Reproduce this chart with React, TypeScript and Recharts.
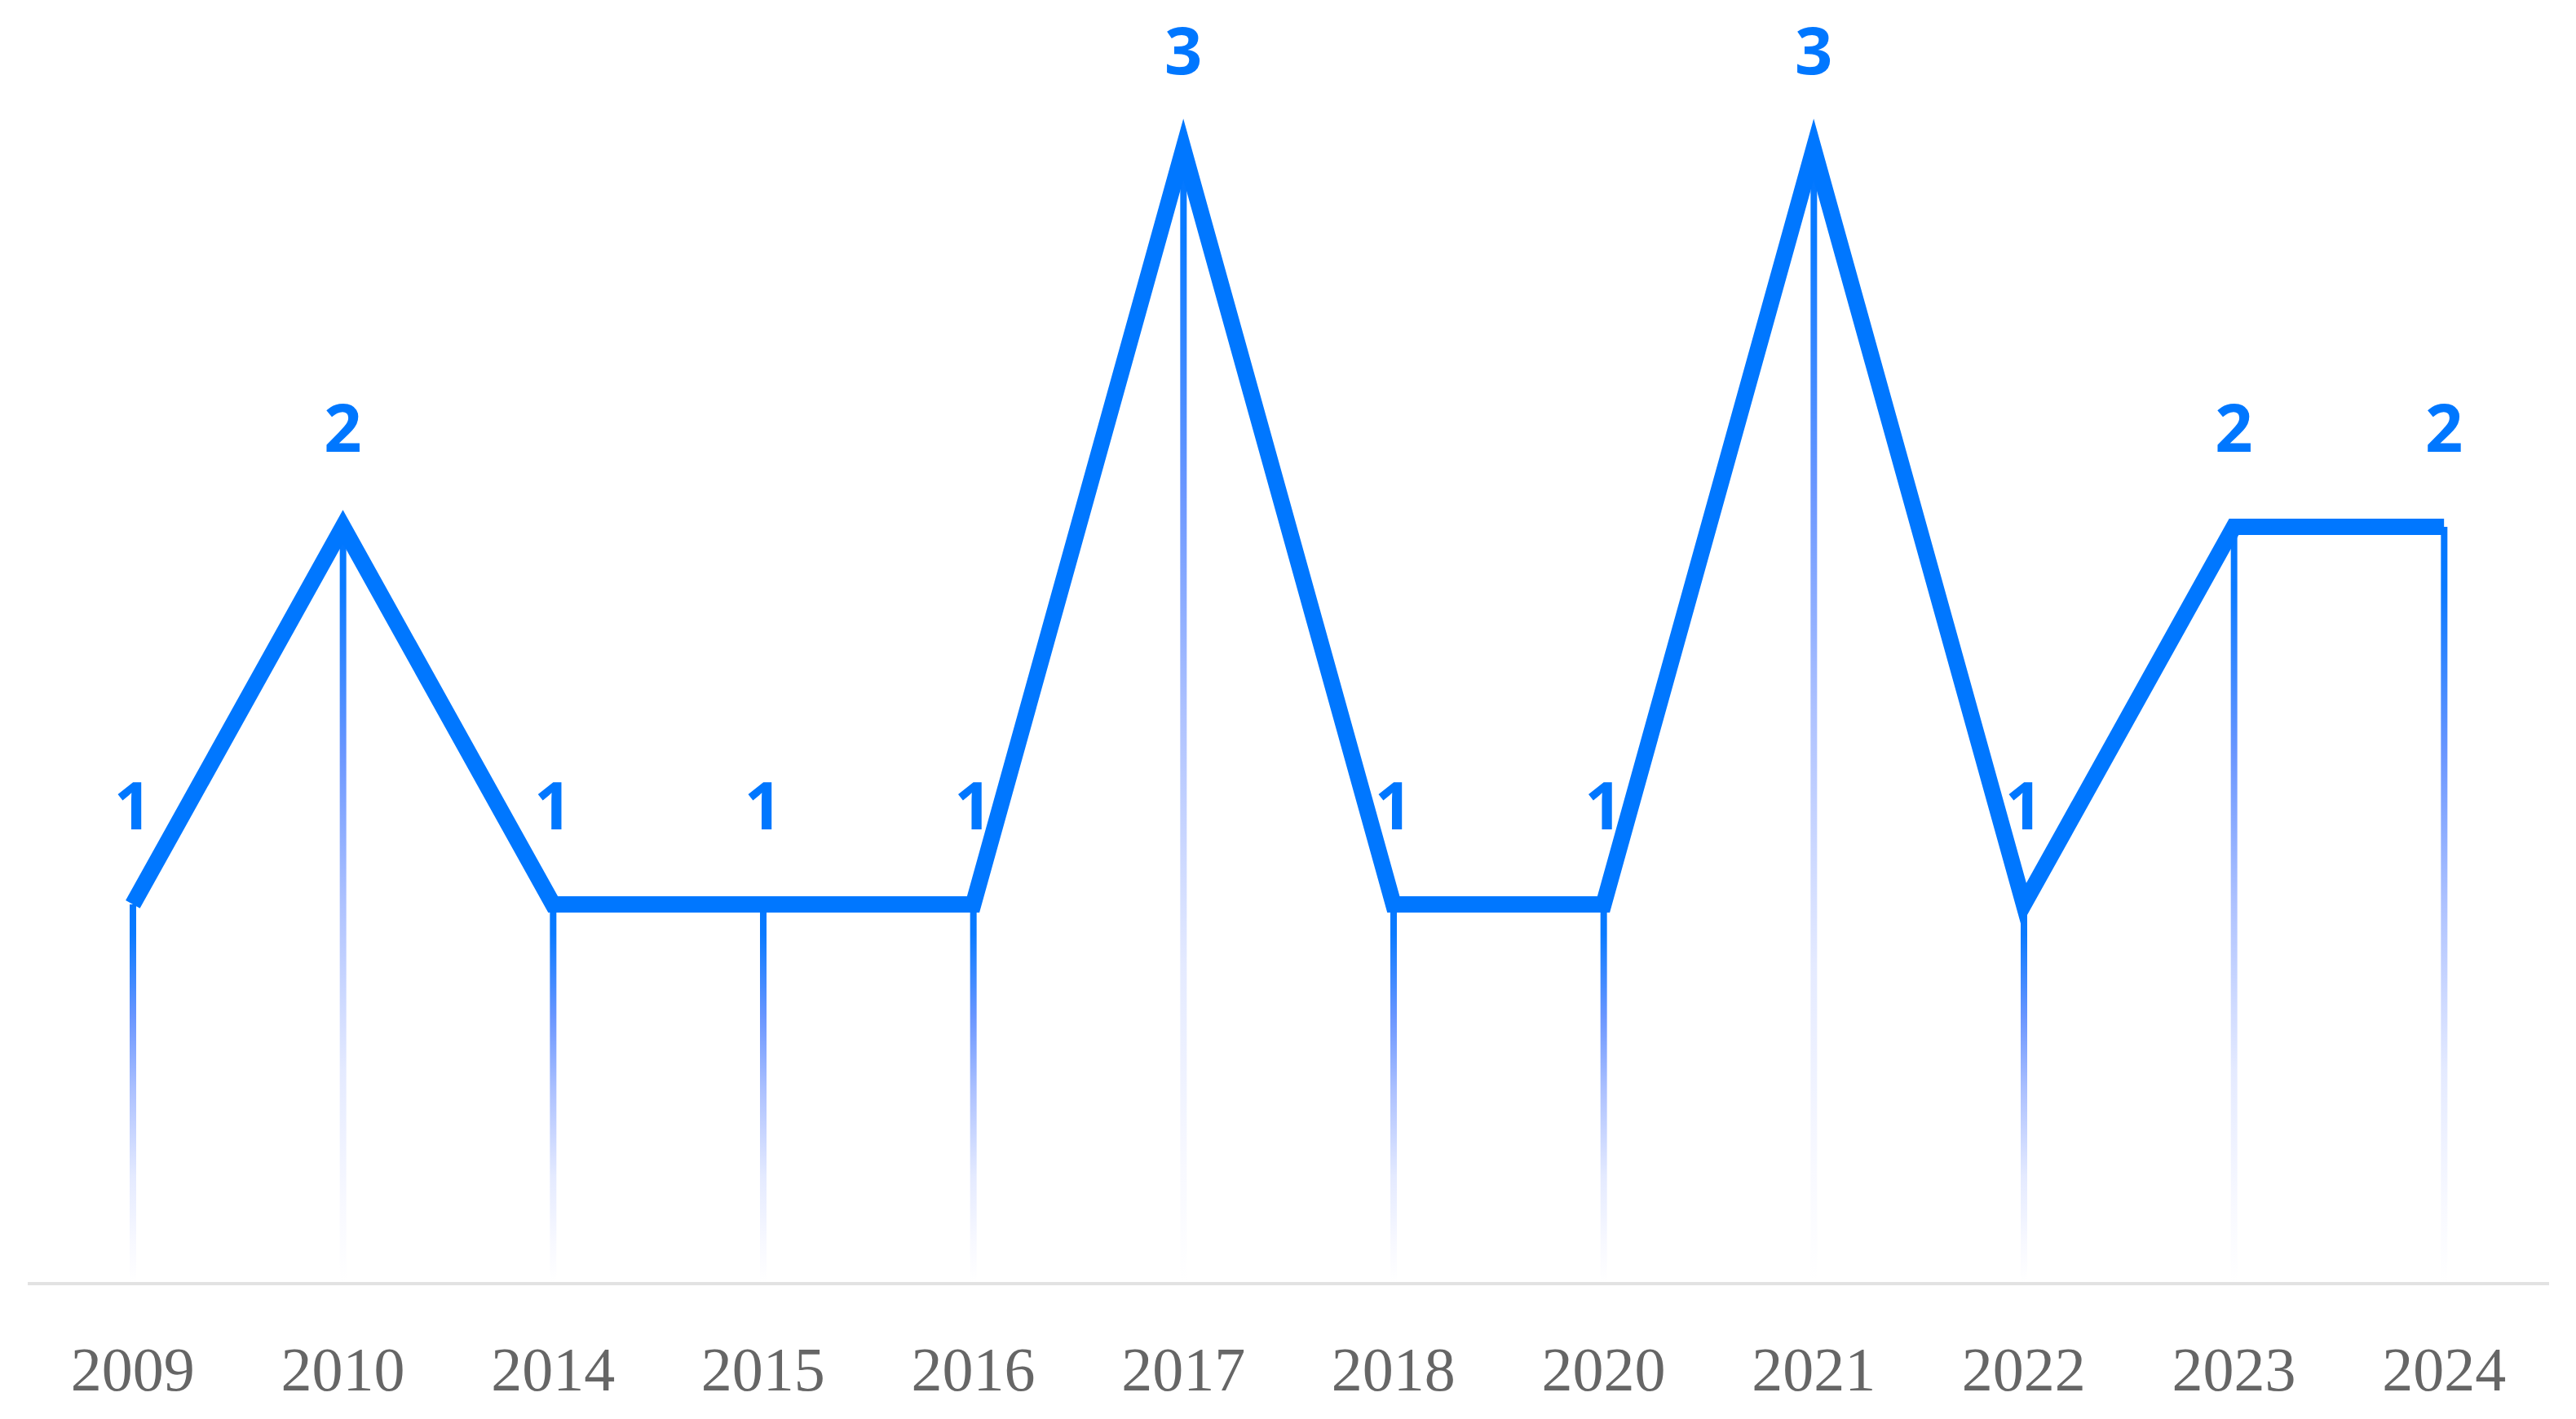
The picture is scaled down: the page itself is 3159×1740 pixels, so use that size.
import React from 'react';
import { ComposedChart, Bar, Line, XAxis, YAxis, LabelList } from 'recharts';

const years = ['2009', '2010', '2014', '2015', '2016', '2017', '2018', '2020', '2021', '2022', '2023', '2024'];
const counts = [1, 2, 1, 1, 1, 3, 1, 1, 3, 1, 2, 2];

const data = years.map((year, i) => ({ year, count: counts[i] }));

const BLUE = '#0077ff';

export default function App() {
  return (
    <div style={{ position: 'absolute', left: 0, top: 0, background: '#fff' }}>
      <ComposedChart
        width={3159}
        height={1740}
        data={data}
        margin={{ top: 44, right: 33, bottom: 0, left: 34 }}
      >
        <defs>
          <linearGradient id="dropGrad" x1="0" y1="0" x2="0" y2="1">
            <stop offset="0" stopColor="#0077ff" />
            <stop offset="0.08" stopColor="#0a7aff" />
            <stop offset="0.3" stopColor="#6a96ff" />
            <stop offset="0.5" stopColor="#aec2ff" />
            <stop offset="0.72" stopColor="#e4eaff" />
            <stop offset="0.9" stopColor="#f8f9ff" />
            <stop offset="1" stopColor="#ffffff" />
          </linearGradient>
        </defs>
        <XAxis
          dataKey="year"
          height={168}
          tickLine={false}
          tickSize={0}
          tickMargin={79}
          axisLine={{ stroke: '#e2e2e2', strokeWidth: 4, transform: 'translate(0,2)' }}
          tick={{ fill: '#666666', fontSize: 76, fontFamily: '"Liberation Serif", "Times New Roman", serif' }}
          interval={0}
        />
        <YAxis hide domain={[0, 3.3]} allowDataOverflow />
        <Bar dataKey="count" barSize={8} fill="url(#dropGrad)" isAnimationActive={false} />
        <Line
          type="linear"
          dataKey="count"
          stroke={BLUE}
          strokeWidth={20}
          strokeLinejoin="miter"
          strokeLinecap="butt"
          dot={false}
          activeDot={false}
          isAnimationActive={false}
        >
          <LabelList
            dataKey="count"
            position="top"
            offset={92}
            fill={BLUE}
            fontSize={81}
            fontWeight={700}
            fontFamily='"Open Sans", "Noto Sans", sans-serif'
          />
        </Line>
      </ComposedChart>
    </div>
  );
}
